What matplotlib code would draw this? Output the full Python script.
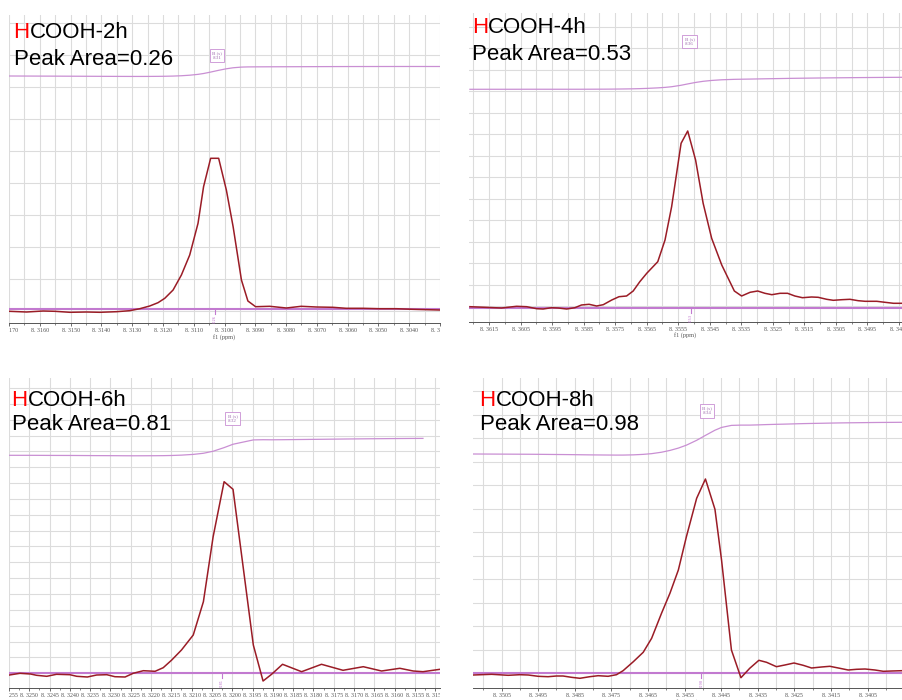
import numpy as np
import matplotlib.pyplot as plt
from matplotlib.ticker import FixedLocator, FuncFormatter
from matplotlib.transforms import Bbox, TransformedBbox

W, H = 902, 700

# HCOOH formyl proton region, four reaction times (ppm, intensity a.u.)
ppm_2h = [8.31699, 8.31643, 8.31589, 8.31551, 8.31502, 8.31448, 8.31405, 8.31351,
          8.31308, 8.31275, 8.31243, 8.31216, 8.31194, 8.31167, 8.31140, 8.31113,
          8.31086, 8.31068, 8.31045, 8.31019, 8.30994, 8.30972, 8.30945, 8.30924,
          8.30899, 8.30853, 8.30799, 8.30751, 8.30702, 8.30648, 8.30605, 8.30551,
          8.30497, 8.30442, 8.30389, 8.30302]
int_2h = [-2.0, -2.7, -1.7, -2.0, -3.0, -2.7, -3.0, -2.4, -1.4, 0.6, 3.3, 6.6,
          11.0, 19.3, 34.3, 54.3, 86.0, 122.6, 151.0, 151.0, 119.3, 82.6, 29.3, 8.3,
          2.6, 3.0, 1.3, 3.0, 2.3, 2.0, 1.0, 1.0, 0.6, 0.6, 0.0, -0.7]

ppm_4h = [8.36211, 8.36164, 8.36111, 8.36063, 8.36031, 8.35999, 8.35979, 8.35952,
          8.35931, 8.35904, 8.35878, 8.35857, 8.35833, 8.35809, 8.35788, 8.35761,
          8.35738, 8.35714, 8.35693, 8.35672, 8.35650, 8.35615, 8.35592, 8.35571,
          8.35541, 8.35520, 8.35495, 8.35471, 8.35444, 8.35412, 8.35372, 8.35349,
          8.35322, 8.35298, 8.35275, 8.35253, 8.35227, 8.35203, 8.35180, 8.35156,
          8.35127, 8.35106, 8.35079, 8.35058, 8.35031, 8.35005, 8.34979, 8.34957,
          8.34920, 8.34894, 8.34867, 8.34840]
int_4h = [1.3, 0.7, 0.0, 1.7, 1.3, -0.7, -1.0, 0.3, 0.0, -1.0, 0.3, 3.0, 3.7, 2.0,
          3.3, 8.0, 11.3, 12.0, 17.0, 26.3, 34.7, 46.3, 68.0, 101.3, 164.7, 177.0,
          148.0, 104.7, 69.7, 43.0, 17.0, 12.0, 15.7, 17.0, 14.7, 13.3, 14.7, 14.7,
          12.0, 10.3, 11.0, 10.7, 8.7, 7.7, 8.3, 8.7, 7.3, 6.7, 6.7, 5.7, 4.7, 4.7]

ppm_6h = [8.32549, 8.32523, 8.32497, 8.32482, 8.32457, 8.32433, 8.32400, 8.32383,
          8.32357, 8.32334, 8.32309, 8.32289, 8.32264, 8.32244, 8.32219, 8.32190,
          8.32170, 8.32149, 8.32125, 8.32096, 8.32071, 8.32047, 8.32020, 8.31998,
          8.31948, 8.31924, 8.31903, 8.31876, 8.31829, 8.31780, 8.31727, 8.31677,
          8.31632, 8.31587, 8.31554, 8.31530, 8.31488]
int_6h = [-1.7, 0.0, -0.7, -2.0, -3.0, -1.0, -1.4, -3.0, -3.7, -1.7, -1.4, -3.4,
          -3.7, 0.0, 2.6, 2.0, 5.6, 13.3, 23.3, 38.3, 71.6, 136.6, 191.6, 184.0,
          28.3, -7.7, -1.0, 9.0, 1.6, 9.0, 3.0, 6.6, 2.3, 5.0, 2.3, 1.6, 4.0]

ppm_8h = [8.35128, 8.35077, 8.35032, 8.35000, 8.34977, 8.34950, 8.34923, 8.34900,
          8.34882, 8.34859, 8.34836, 8.34809, 8.34786, 8.34759, 8.34736, 8.34718,
          8.34690, 8.34663, 8.34640, 8.34613, 8.34590, 8.34567, 8.34545, 8.34517,
          8.34493, 8.34467, 8.34449, 8.34422, 8.34396, 8.34372, 8.34347, 8.34326,
          8.34299, 8.34276, 8.34251, 8.34226, 8.34203, 8.34176, 8.34153, 8.34130,
          8.34103, 8.34080, 8.34057, 8.34030, 8.34007, 8.33984, 8.33957]
int_8h = [-1.7, -1.0, -2.0, -1.4, -1.7, -3.0, -3.4, -2.7, -2.7, -4.0, -5.0, -3.4,
          -2.4, -3.0, -1.4, 2.6, 11.6, 21.0, 35.0, 60.0, 80.0, 103.3, 136.6, 175.0,
          194.3, 164.0, 113.3, 23.3, -4.4, 5.0, 13.0, 11.0, 6.6, 8.3, 10.3, 8.0,
          5.3, 6.3, 7.0, 5.3, 3.3, 4.0, 4.3, 3.3, 2.0, 2.3, 2.6]

labels = ["HCOOH-2h", "HCOOH-4h", "HCOOH-6h", "HCOOH-8h"]
peak_areas = [0.26, 0.53, 0.81, 0.98]
peak_shifts = [8.31, 8.36, 8.32, 8.34]
spectra = [(ppm_2h, int_2h), (ppm_4h, int_4h), (ppm_6h, int_6h), (ppm_8h, int_8h)]

# panel geometry in pixels and axis settings
panels = [
    dict(box=(9, 15, 440, 322.7), xlim=(8.3170, 8.3030), major=(8.3030, 8.3170, 0.001),
         minor=0.0005, grid_both=True, ygrid=(-2, 32.0), ylim_px=309.3,
         integ=(233.3, 9.5), marker=8.31032, tag=(8.31024, 253.8), title=(13.5, 37.7, 65.2)),
    dict(box=(469, 13, 902, 321.5), xlim=(8.36214, 8.34840), major=(8.3485, 8.3615, 0.001),
         minor=0.0005, grid_both=True, ygrid=(2, 21.5), ylim_px=308.0,
         integ=(218.7, 12.0), marker=8.35510, tag=(8.35514, 266.5), title=(472, 32.6, 60.0)),
    dict(box=(9, 378, 440, 687.7), xlim=(8.3255, 8.31488), major=(8.3150, 8.3255, 0.0005),
         minor=0.00025, grid_both=False, ygrid=(0, 15.85), ylim_px=673.3,
         integ=(218.0, 17.0), marker=8.32025, tag=(8.31999, 254.8), title=(11.5, 406.0, 430.0)),
    dict(box=(473, 378, 902, 687.7), xlim=(8.35128, 8.33956), major=(8.3405, 8.3505, 0.001),
         minor=0.0005, grid_both=True, ygrid=(0, 23.5), ylim_px=673.3,
         integ=(219.3, 31.7), marker=8.34504, tag=(8.34489, 262.5), title=(479.5, 405.5, 430.0)),
]

SPEC = '#9a1c26'
INTEG = '#c98fd3'
BASE = '#c27ad0'

fig = plt.figure(figsize=(W / 100, H / 100), dpi=100)
renderer = fig.canvas.get_renderer()


def ppm_fmt(v, pos):
    return f"{v:.4f}".replace('.', '. ')


for cfg, (ppm, inten), name, area, shift in zip(panels, spectra, labels, peak_areas, peak_shifts):
    x0, y0, x1, y1 = cfg['box']
    ax = fig.add_axes([x0 / W, 1 - y1 / H, (x1 - x0) / W, (y1 - y0) / H])
    base = cfg['ylim_px']
    ax.set_xlim(*cfg['xlim'])
    ax.set_ylim(-(y1 - base), base - y0)

    lo, hi, step = cfg['major']
    majors = np.round(np.arange(lo, hi + step / 2, step), 5)
    ms = cfg['minor']
    minors = np.round(np.arange(lo - step, hi + step, ms), 5)
    minors = [m for m in minors if not np.isclose(majors, m).any()]
    ax.xaxis.set_major_locator(FixedLocator(majors))
    ax.xaxis.set_minor_locator(FixedLocator(minors))
    ax.xaxis.set_major_formatter(FuncFormatter(ppm_fmt))
    ax.tick_params(axis='x', which='major', length=2.5, width=0.6, pad=1.2,
                   labelsize=4.3, colors='#555555', direction='out')
    ax.tick_params(axis='x', which='minor', length=1.5, width=0.5, colors='#555555')
    for lbl in ax.get_xticklabels():
        lbl.set_family('Liberation Serif')
    ax.set_xlabel('f1 (ppm)', fontsize=4.5, family='Liberation Serif', color='#555555', labelpad=0.5)

    g0, gs = cfg['ygrid']
    ylo, yhi = ax.get_ylim()
    ax.set_yticks(np.arange(g0 - gs * np.floor((g0 - ylo) / gs), yhi, gs))
    ax.tick_params(axis='y', length=0, labelleft=False)

    ax.grid(True, which='major', color='#dcdcdc', lw=0.8)
    if cfg['grid_both']:
        ax.grid(True, which='minor', axis='x', color='#dcdcdc', lw=0.8)
    ax.set_axisbelow(True)
    for s in ('top', 'left', 'right'):
        ax.spines[s].set_visible(False)
    ax.spines['bottom'].set_color('#555555')
    ax.spines['bottom'].set_linewidth(0.7)

    # integration baseline and spectrum
    ax.axhline(0, color=BASE, lw=1.5, zorder=2)
    p = np.array(ppm)
    y = np.array(inten)
    ax.plot(p, y, color=SPEC, lw=1.1, zorder=3)

    # running integral
    cum = np.concatenate([[0], np.cumsum(0.5 * (y[1:] + y[:-1]) * np.abs(np.diff(p)))])
    start, rise = cfg['integ']
    curve = start + rise * cum / cum[-1]
    keep = p >= min(cfg['xlim']) + 0.00005 if name.endswith('6h') else np.ones_like(p, bool)
    ax.plot(p[keep], curve[keep], color=INTEG, lw=0.9, zorder=3)

    # integral value marker
    ax.plot([cfg['marker'], cfg['marker']], [0, -5], color=BASE, lw=0.8, zorder=3)
    ax.text(cfg['marker'], -6, f"{area:.2f}", rotation=90, fontsize=2.6, color=BASE,
            ha='center', va='top', zorder=3)

    # multiplet tag
    tx, ty = cfg['tag']
    ax.text(tx, ty, f"B (s)\n{shift:.2f}", fontsize=3.6, color='#a070b0', ha='center',
            va='center', family='Liberation Serif', linespacing=1.35, zorder=4,
            bbox=dict(boxstyle='square,pad=0.45', fc='white', ec=INTEG, lw=0.6))

    # clip tick labels to the panel width
    clip = TransformedBbox(Bbox.from_extents(x0 / W, 0, x1 / W, 1), fig.transFigure)
    for t in ax.xaxis.get_major_ticks():
        t.label1.set_clip_box(clip)
        t.label1.set_clip_on(True)

    # sample name with red H, and peak area
    tx0, tb1, tb2 = cfg['title']
    th = fig.text(tx0 / W, 1 - tb1 / H, 'H', color='#ff0000', fontsize=16,
                  family='Liberation Sans', va='baseline')
    bb = th.get_window_extent(renderer)
    fig.text(bb.x1 / W, 1 - tb1 / H, name[1:], color='black', fontsize=16,
             family='Liberation Sans', va='baseline')
    fig.text(tx0 / W, 1 - tb2 / H, f"Peak Area={area:.2f}", color='black', fontsize=16,
             family='Liberation Sans', va='baseline')

fig.savefig('out.png', dpi=100, facecolor='white')
